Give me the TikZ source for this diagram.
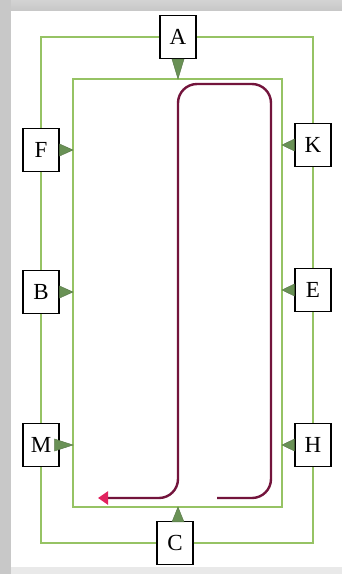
\documentclass[tikz,border=0pt]{standalone}
\usepackage{fontspec}
\setmainfont{Liberation Serif}
\usetikzlibrary{arrows.meta}
\definecolor{frameg}{RGB}{200,200,200}
\definecolor{lineg}{RGB}{150,195,100}
\definecolor{trig}{RGB}{105,145,85}
\definecolor{pathc}{RGB}{115,20,60}
\definecolor{tipc}{RGB}{225,35,95}
\tikzset{
  lbox/.style={draw=black,line width=1.3pt,fill=white,minimum width=36pt,minimum height=43pt,inner sep=0pt,font=\fontsize{23}{25}\selectfont},
  gline/.style={draw=lineg,line width=1.5pt},
  tri/.style={fill=trig,draw=trig!80!black,line width=0.4pt},
}
\begin{document}
\begin{tikzpicture}[x=1pt,y=-1pt]
\useasboundingbox (0,0) rectangle (342,574);
\fill[white] (0,0) rectangle (342,574);
\shade[top color=frameg!80,bottom color=frameg] (0,0) rectangle (342,10);
\fill[frameg] (0,0) rectangle (11,574);
\fill[frameg!40] (11,567) rectangle (342,574);
% inner rectangle
\coordinate (i1) at (73,79);
\coordinate (i2) at (282,79);
\coordinate (i3) at (282,507);
\coordinate (i4) at (73,507);
\draw[gline] (i1) -- (i2) -- (i3) -- (i4) -- cycle;
% outer rectangle corners
\coordinate (o1) at (41,37);
\coordinate (o2) at (313,37);
\coordinate (o3) at (313,543);
\coordinate (o4) at (41,543);
% boxes
\node[lbox] (A) at (178,37) {A};
\node[lbox] (F) at (41,150) {F};
\node[lbox] (B) at (41,292) {B};
\node[lbox] (M) at (41,445) {M};
\node[lbox] (C) at (175,543) {C};
\node[lbox] (K) at (313,145) {K};
\node[lbox] (E) at (313,290) {E};
\node[lbox] (H) at (313,445) {H};
% outer rectangle
\draw[gline] (A.west) -- (o1) -- (F.north);
\draw[gline] (F.south) -- (B.north);
\draw[gline] (B.south) -- (M.north);
\draw[gline] (M.south) -- (o4) -- (C.west);
\draw[gline] (C.east) -- (o3) -- (H.south);
\draw[gline] (H.north) -- (E.south);
\draw[gline] (E.north) -- (K.south);
\draw[gline] (K.north) -- (o2) -- (A.east);
% triangles
\draw[tri] ([xshift=-6]A.south) -- ([xshift=6]A.south) -- (A.south |- i1) -- cycle;
\draw[tri] ([xshift=-3,yshift=-1]C.north) -- ([xshift=9,yshift=-1]C.north) -- ([xshift=3]C.north |- i4) -- cycle;
\draw[tri] ([yshift=-6]F.east) -- ([yshift=6]F.east) -- (F.east -| i1) -- cycle;
\draw[tri] ([yshift=-6]B.east) -- ([yshift=6]B.east) -- (B.east -| i1) -- cycle;
\draw[tri] ([yshift=-6,xshift=-5]M.east) -- ([yshift=6,xshift=-5]M.east) -- (M.east -| i1) -- cycle;
\draw[tri] ([yshift=-6]K.west) -- ([yshift=6]K.west) -- (K.west -| i2) -- cycle;
\draw[tri] ([yshift=-6]E.west) -- ([yshift=6]E.west) -- (E.west -| i2) -- cycle;
\draw[tri] ([yshift=-6]H.west) -- ([yshift=6]H.west) -- (H.west -| i2) -- cycle;
% route
\coordinate (s) at (217,498);
\coordinate (t) at (98,498);
\draw[pathc,line width=2.4pt,rounded corners=19pt,-{Triangle[length=10pt,width=13pt,color=tipc]}]
  (s) -- (271,498) -- (271,84) -- (178,84) -- (178,498) -- (t);
\end{tikzpicture}
\end{document}
